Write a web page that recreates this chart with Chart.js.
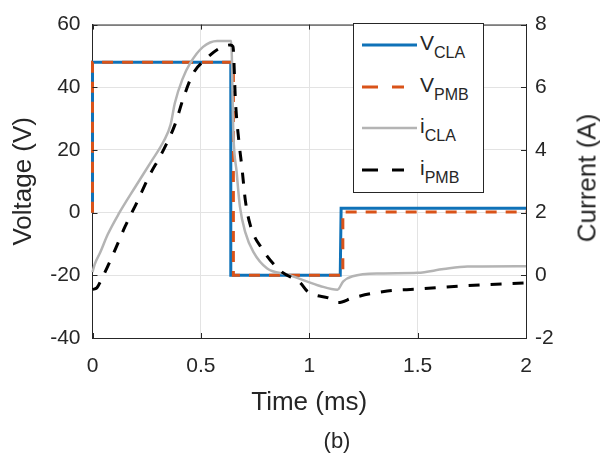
<!DOCTYPE html>
<html lang="en">
<head>
<meta charset="UTF-8">
<title>tensao e corrente</title>
<script src="https://cdn.jsdelivr.net/npm/chart.js"></script>
<style>
  body { margin: 0; background: white; font-family: "Liberation Sans", Arial, sans-serif; }
  .wrap { position: relative; width: 600px; height: 461px; }
  .legenda { position: absolute; left: 353px; top: 23px; width: 129px; height: 168px; border: 1px solid #262626; background: white; }
  .legenda svg { position: absolute; left: 8px; }
  .legenda .txt { position: absolute; left: 66px; font-size: 21px; line-height: 21px; color: #262626; white-space: nowrap; }
  .legenda sub { font-size: 16px; vertical-align: -8px; line-height: 0; }
  .rot { position: absolute; left: 587px; top: 178px; transform: translate(-50%, -50%) rotate(-90deg); font-size: 26px; color: #262626; white-space: nowrap; }
  .letra { position: absolute; left: 337px; top: 441px; transform: translate(-50%, -50%); font-size: 22px; color: #262626; }
</style>
</head>
<body>
<div class="wrap">
  <canvas id="grafico" width="600" height="461"></canvas>

  <div class="legenda">
    <svg style="top:18px" width="56" height="6"><line x1="0" y1="3" x2="55" y2="3" stroke="#0f72b8" stroke-width="3"/></svg>
    <div class="txt" style="top:8px">V<sub>CLA</sub></div>
    <svg style="top:60px" width="56" height="6"><line x1="0" y1="3" x2="42" y2="3" stroke="#d95319" stroke-width="3" stroke-dasharray="16 14"/></svg>
    <div class="txt" style="top:50px">V<sub>PMB</sub></div>
    <svg style="top:101px" width="56" height="6"><line x1="0" y1="3" x2="55" y2="3" stroke="#b4b4b4" stroke-width="2.5"/></svg>
    <div class="txt" style="top:91px">i<sub>CLA</sub></div>
    <svg style="top:143px" width="56" height="6"><line x1="0" y1="3" x2="42" y2="3" stroke="#000" stroke-width="3" stroke-dasharray="16 14"/></svg>
    <div class="txt" style="top:133px">i<sub>PMB</sub></div>
  </div>

  <div class="rot">Current (A)</div>
  <div class="letra">(b)</div>
</div>

<script>
  // tensoes (V) - degraus
  const tempoVcla = [0, 0, 0.638, 0.638, 1.143, 1.147, 2]
  const vCla      = [0, 48, 48, -20, -20, 1.4, 1.4]
  const tempoVpmb = [0, 0, 0.65, 0.65, 1.155, 1.155, 2]
  const vPmb      = [0, 48, 48, -20, -20, 0.2, 0.2]

  // correntes (A)
  const tempoIcla = [0, 0.01, 0.037, 0.07, 0.12, 0.2, 0.27, 0.33, 0.36, 0.38, 0.415, 0.45, 0.51, 0.575, 0.64,
                     0.65, 0.665, 0.68, 0.705, 0.742, 0.806, 0.9, 0.96, 1.05, 1.13, 1.157, 1.2, 1.33, 1.5, 1.62, 1.73, 2]
  const iCla      = [0.1, 0.35, 0.75, 1.3, 1.95, 2.85, 3.62, 4.3, 4.8, 5.5, 6.26, 6.76, 7.29, 7.48, 7.48,
                     4.5, 3.3, 2.2, 1.37, 0.75, 0.22, 0.03, -0.12, -0.34, -0.46, -0.19, -0.03, 0.06, 0.08, 0.2, 0.28, 0.29]
  const tempoIpmb = [0, 0.02, 0.04, 0.1, 0.15, 0.21, 0.26, 0.32, 0.38, 0.42, 0.465, 0.52, 0.575, 0.635, 0.648,
                     0.66, 0.675, 0.69, 0.705, 0.728, 0.783, 0.866, 0.96, 0.99, 1.1, 1.134, 1.2, 1.36, 1.5, 1.7, 2]
  const iPmb      = [-0.45, -0.4, -0.15, 0.75, 1.55, 2.4, 3.15, 3.9, 4.8, 5.67, 6.45, 6.88, 7.2, 7.35, 7.3,
                     5.5, 4.3, 3.4, 2.4, 1.6, 0.84, 0.15, -0.25, -0.5, -0.75, -0.87, -0.72, -0.5, -0.44, -0.34, -0.24]

  const ticksTempo = [0, 0.5, 1, 1.5, 2]

  function pontos(tt, vv) {
    return tt.map((t, i) => ({x: t, y: vv[i]}))
  }

  const corTexto = '#262626'
  const corGrade = '#e3e3e3'

  const moldura = {
    id: 'moldura',
    afterDatasetsDraw(chart) {
      const {ctx, chartArea: a, scales} = chart
      ctx.save()
      ctx.strokeStyle = corTexto
      ctx.lineWidth = 1
      ctx.beginPath()
      ctx.moveTo(a.left, a.top + 0.5)
      ctx.lineTo(a.right, a.top + 0.5)
      scales.x.ticks.forEach(t => {
        const px = Math.round(scales.x.getPixelForValue(t.value)) + 0.5
        ctx.moveTo(px, a.bottom); ctx.lineTo(px, a.bottom - 5)
        ctx.moveTo(px, a.top); ctx.lineTo(px, a.top + 5)
      })
      scales.y.ticks.forEach(t => {
        const py = Math.round(scales.y.getPixelForValue(t.value)) + 0.5
        ctx.moveTo(a.left, py); ctx.lineTo(a.left + 5, py)
      })
      scales.y1.ticks.forEach(t => {
        const py = Math.round(scales.y1.getPixelForValue(t.value)) + 0.5
        ctx.moveTo(a.right, py); ctx.lineTo(a.right - 5, py)
      })
      ctx.stroke()
      ctx.restore()
    }
  }

  const fonteTick = {family: '"Liberation Sans", Arial, sans-serif', size: 21}
  const fonteTitulo = {family: '"Liberation Sans", Arial, sans-serif', size: 26}

  new Chart(document.getElementById('grafico'), {
    type: 'line',
    data: {
      datasets: [
        {label: 'iPMB', data: pontos(tempoIpmb, iPmb), yAxisID: 'y1', borderColor: '#000', borderWidth: 3,
         borderDash: [11, 11], cubicInterpolationMode: 'monotone', order: 1},
        {label: 'iCLA', data: pontos(tempoIcla, iCla), yAxisID: 'y1', borderColor: '#b4b4b4', borderWidth: 2.5,
         cubicInterpolationMode: 'monotone', order: 2},
        {label: 'VPMB', data: pontos(tempoVpmb, vPmb), yAxisID: 'y', borderColor: '#d95319', borderWidth: 3,
         borderDash: [11, 9], order: 3},
        {label: 'VCLA', data: pontos(tempoVcla, vCla), yAxisID: 'y', borderColor: '#0f72b8', borderWidth: 3, order: 4}
      ]
    },
    options: {
      responsive: false,
      animation: false,
      elements: {point: {radius: 0}, line: {tension: 0, borderJoinStyle: 'miter', borderCapStyle: 'butt'}},
      datasets: {line: {clip: 4}},
      layout: {padding: {top: 17, left: 0, right: 0, bottom: 0}},
      plugins: {legend: {display: false}, tooltip: {enabled: false}},
      scales: {
        x: {
          type: 'linear', min: 0, max: 2,
          afterBuildTicks: s => { s.ticks = ticksTempo.map(v => ({value: v})) },
          afterFit: s => { s.height = 123 },
          ticks: {color: corTexto, font: fonteTick, padding: 16, maxRotation: 0, callback: v => String(v)},
          grid: {color: corGrade, drawTicks: false},
          border: {color: corTexto, width: 1},
          title: {display: true, text: 'Time (ms)', color: corTexto, font: fonteTitulo, padding: {top: 0, bottom: 43}}
        },
        y: {
          position: 'left', min: -40, max: 60,
          ticks: {stepSize: 20, color: corTexto, font: fonteTick, padding: 12},
          afterFit: s => { s.width = 92.5 },
          grid: {color: corGrade, drawTicks: false},
          border: {color: corTexto, width: 1},
          title: {display: true, text: 'Voltage (V)', color: corTexto, font: fonteTitulo, padding: {top: 8, bottom: 0}}
        },
        y1: {
          position: 'right', min: -2, max: 8,
          ticks: {stepSize: 2, color: corTexto, font: fonteTick, padding: 9},
          afterFit: s => { s.width = 74 },
          grid: {drawOnChartArea: false, drawTicks: false},
          border: {color: corTexto, width: 1}
        }
      }
    },
    plugins: [moldura]
  })
</script>
</body>
</html>
